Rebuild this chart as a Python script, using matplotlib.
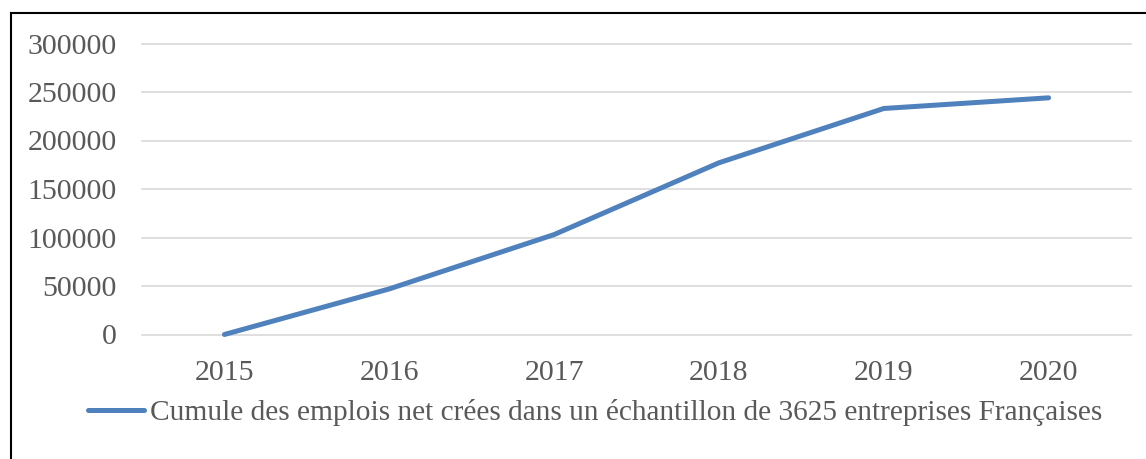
import matplotlib
matplotlib.use("Agg")
import matplotlib.pyplot as plt
from matplotlib.lines import Line2D

# data
years = ["2015", "2016", "2017", "2018", "2019", "2020"]
cumul_emplois = [0, 47000, 103000, 177000, 233000, 244000]
y_ticks = [0, 50000, 100000, 150000, 200000, 250000, 300000]
serie_label = "Cumule des emplois net crées dans un échantillon de 3625 entreprises Françaises"

W, H = 1146, 459
plt.rcParams['font.family'] = ['Liberation Serif', 'DejaVu Serif']
txt_col = '#595959'

fig = plt.figure(figsize=(W / 100, H / 100), dpi=100)
ax = fig.add_axes([142 / W, 1 - 334.5 / H, (1131 - 142) / W, (334.5 - 43.5) / H])

x = list(range(len(years)))
ax.plot(x, cumul_emplois, color='#4f81bd', linewidth=3.6,
        solid_capstyle='round', solid_joinstyle='round', clip_on=False,
        label=serie_label, zorder=3)

ax.set_xlim(-0.5, len(years) - 0.5)
ax.set_ylim(0, 300000)
ax.set_xticks(x)
ax.set_xticklabels(years)
ax.set_yticks(y_ticks)
ax.set_yticklabels([str(v) for v in y_ticks])
ax.tick_params(length=0, labelsize=21.5, colors=txt_col)
ax.tick_params(axis='y', pad=18)
ax.tick_params(axis='x', pad=18)

for v in y_ticks:
    ax.axhline(v, color='#d9d9d9', linewidth=1.2, zorder=1, clip_on=False)
for s in ax.spines.values():
    s.set_visible(False)

leg = fig.legend(loc='center left', bbox_to_anchor=(88 / W, 1 - 413 / H),
                 frameon=False, fontsize=21.2, handlelength=1.9,
                 handletextpad=0.2, borderpad=0, borderaxespad=0)
for t in leg.get_texts():
    t.set_color(txt_col)

# border of the figure (right and bottom are cut off in the original)
fig.add_artist(Line2D([10.5 / W, 1], [1 - 13 / H, 1 - 13 / H], transform=fig.transFigure,
                      color='black', linewidth=1.5))
fig.add_artist(Line2D([10.5 / W, 10.5 / W], [0, 1 - 13 / H], transform=fig.transFigure,
                      color='black', linewidth=1.5))

fig.savefig('out.png', dpi=100)
